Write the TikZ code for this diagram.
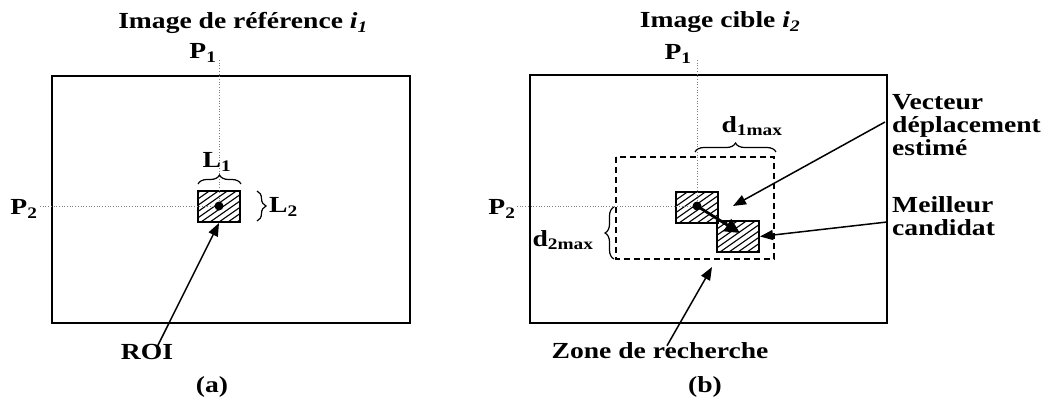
\documentclass[tikz,border=0pt]{standalone}
\usepackage{fontspec}
\setmainfont{Liberation Serif}[FakeStretch=1.2]
\usetikzlibrary{arrows.meta,decorations.pathreplacing}
\begin{document}
\begin{tikzpicture}[x=1pt,y=-1pt,
  lbl/.style={font=\fontsize{23}{23}\selectfont\bfseries, inner sep=0pt},
  frame/.style={draw, line width=1.8pt},
  roi/.style={draw, line width=2pt, rectangle, inner sep=0pt, minimum width=42pt, minimum height=31pt,
    path picture={\foreach \k in {-60,-51,...,60}
      \draw[line width=1.1pt] ([xshift=\k pt]path picture bounding box.south west) -- ++(60,-42);}},
  guide/.style={dotted, line width=0.7pt, gray},
  ptr/.style={line width=1.5pt, -{Triangle[length=13pt,width=10pt]}},
  brc/.style={decorate, decoration={brace, amplitude=9pt}, line width=1.2pt},
  zone/.style={draw, dashed, dash pattern=on 6pt off 4pt, line width=1.5pt},
  ]
\useasboundingbox (0,0) rectangle (1048,397);

% ---------- panel (a) ----------
\node[lbl] (titleA) at (243,23) {Image de référence \textit{i\textsubscript{1}}};
\draw[frame] (52,76) rectangle (410,323);
\node[roi] (roiA) at (219,206.5) {};
\coordinate (dotA) at (219,206);
\coordinate (guideA1) at (219,60);
\coordinate (guideA2) at (40,206);
\draw[guide] (guideA1) -- (dotA);
\draw[guide] (guideA2) -- (dotA);
\fill (dotA) circle (4.5pt);
\node[lbl] (P1a) at (203,53) {P\textsubscript{1}};
\node[lbl] (P2a) at (24,209) {P\textsubscript{2}};
\draw[brc] (198,184) -- (241,184);
\node[lbl] (L1) at (217,162) {L\textsubscript{1}};
\draw[brc] (257,191) -- (257,221);
\node[lbl, anchor=west] (L2) at (269,207) {L\textsubscript{2}};
\node[lbl] (roiLbl) at (147,352) {ROI};
\draw[ptr] ([xshift=10pt,yshift=-3pt]roiLbl.north) -- (roiA.south);
\node[lbl] (capA) at (212,387) {(a)};

% ---------- panel (b) ----------
\node[lbl] (titleB) at (720,22) {Image cible \textit{i\textsubscript{2}}};
\draw[frame] (530,75) rectangle (887,323);
\draw[zone] (616,157) rectangle (774,259);
\node[roi] (roiB1) at (697,207.5) {};
\node[roi] (roiB2) at (738,236.5) {};
\coordinate (dotB1) at (697,206);
\coordinate (dotB2) at (740,233);
\coordinate (guideB1) at (697,60);
\coordinate (guideB2) at (517,206);
\draw[guide] (guideB1) -- (dotB1);
\draw[guide] (guideB2) -- (dotB1);
\fill (dotB1) circle (4.5pt);
\draw[line width=2.8pt, -{Triangle[length=15pt,width=14pt]}] (dotB1) -- (dotB2);
\node[lbl] (P1b) at (678,54) {P\textsubscript{1}};
\node[lbl] (P2b) at (502,209) {P\textsubscript{2}};
\draw[brc] (695,152) -- (776,152);
\node[lbl] (d1) at (752,126) {d\textsubscript{1max}};
\draw[brc] (614,259) -- (614,207);
\node[lbl] (d2) at (563,240) {d\textsubscript{2max}};
\node[lbl, align=left, anchor=west] (vec) at (892,125) {Vecteur\\déplacement\\estimé};
\node[lbl, align=left, anchor=west] (best) at (892,216) {Meilleur\\candidat};
\coordinate (vecTail) at (885,122);
\coordinate (vecTip) at (733,206);
\coordinate (bestTail) at (887,222);
\draw[ptr] (vecTail) -- (vecTip);
\draw[ptr] (bestTail) -- (roiB2.east);
\node[lbl] (zoneLbl) at (660,351) {Zone de recherche};
\coordinate (zoneTip) at (712,267);
\draw[ptr] ([xshift=7pt,yshift=-3pt]zoneLbl.north) -- (zoneTip);
\node[lbl] (capB) at (705,387) {(b)};
\end{tikzpicture}
\end{document}
